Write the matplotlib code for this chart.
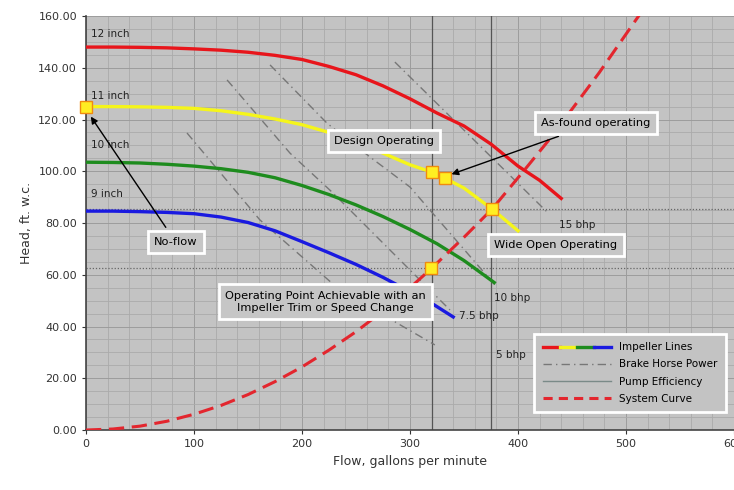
import numpy as np
import matplotlib.pyplot as plt
from matplotlib.lines import Line2D
from matplotlib.legend_handler import HandlerTuple
from matplotlib.ticker import MultipleLocator

plt.rcParams['font.family'] = ['DejaVu Sans']

# impeller curves (flow gpm, head ft w.c.)
q_12 = [0, 25, 50, 75, 100, 125, 150, 175, 200, 225, 250, 275, 300, 325, 350, 375, 400, 420, 440]
h_12 = [148, 148, 147.9, 147.7, 147.3, 146.8, 146, 144.8, 143.2, 140.5, 137.3, 133, 128, 122.5,
        117.5, 110.5, 102, 96.5, 89.5]
q_11 = [0, 25, 50, 75, 100, 125, 150, 175, 200, 225, 250, 275, 300, 320, 332, 350, 376, 400]
h_11 = [125, 125, 124.9, 124.7, 124.3, 123.4, 122, 120.2, 118, 115, 111.5, 107, 102.5, 99.7,
        97.4, 93.5, 85.4, 77]
q_10 = [0, 25, 50, 75, 100, 125, 150, 175, 200, 225, 250, 275, 300, 325, 350, 378]
h_10 = [103.5, 103.4, 103.2, 102.7, 102, 101, 99.6, 97.5, 94.5, 91, 87, 82.5, 77.5, 72, 65.5, 57]
q_9 = [0, 25, 50, 75, 100, 125, 150, 175, 200, 225, 250, 275, 300, 320, 340]
h_9 = [84.6, 84.6, 84.4, 84.1, 83.6, 82.3, 80.2, 77, 72.8, 68.5, 64, 59, 53.5, 49, 43.7]

# system curve
q_sys = [0, 25, 50, 75, 100, 125, 150, 175, 200, 225, 250, 275, 300, 320, 350, 376, 406, 430,
         450, 475, 500, 515]
h_sys = [0, 0.4, 1.5, 3.4, 6.1, 9.5, 13.7, 18.7, 24.4, 30.9, 38, 46, 55, 62.5, 74.5, 85.4, 100.5,
         112.8, 124, 138, 153, 162]

# brake horse power lines
bhp_labels = ['5 bhp', '7.5 bhp', '10 bhp', '15 bhp']
bhp_q = [[93.5, 161, 235, 323],
         [130.6, 188.9, 228.7, 290.7, 337],
         [170.4, 223.1, 263, 300, 378.7],
         [286, 427.8]]
bhp_h = [[114.8, 81.2, 54.1, 32.9],
         [135.3, 107, 91.6, 65.7, 46.4],
         [141.1, 118.6, 105.5, 93.9, 56],
         [142.2, 83.9]]
bhp_label_pos = [(380, 28), (345, 43), (378, 50), (438, 78)]

# operating points
pts_q = [0, 320, 332, 376, 319]
pts_h = [125, 99.7, 97.4, 85.4, 62.6]

fig = plt.figure(figsize=(7.34, 4.9), dpi=100)
ax = fig.add_axes([0.1172, 0.1224, 0.8828, 0.8449])
ax.set_facecolor('#c3c3c3')

ax.set_xlim(0, 600)
ax.set_ylim(0, 160)
ax.xaxis.set_major_locator(MultipleLocator(100))
ax.yaxis.set_major_locator(MultipleLocator(20))
ax.xaxis.set_minor_locator(MultipleLocator(20))
ax.yaxis.set_minor_locator(MultipleLocator(5))
ax.grid(which='minor', color='#ababab', lw=0.6, zorder=0)
ax.grid(which='major', color='#9c9c9c', lw=0.7, zorder=0)
ax.set_axisbelow(True)
ax.tick_params(which='minor', length=0)
ax.tick_params(which='major', length=3, labelsize=8, colors='#333333')
ax.yaxis.set_major_formatter(lambda v, p: f'{v:.2f}')
for s in ['top', 'right']:
    ax.spines[s].set_visible(False)
for s in ['left', 'bottom']:
    ax.spines[s].set_color('#444444')
    ax.spines[s].set_linewidth(1.2)

ax.set_xlabel('Flow, gallons per minute', fontsize=9, color='#333333')
ax.set_ylabel('Head, ft. w.c.', fontsize=9, color='#333333')

# guide lines through operating points
for q in [320, 375]:
    ax.axvline(q, color='#555555', lw=0.9, zorder=1)
for h in [85.4, 62.6]:
    ax.axhline(h, color='#666666', lw=0.9, ls=(0, (1, 1.5)), zorder=1)

# bhp lines
for q, h, lab, pos in zip(bhp_q, bhp_h, bhp_labels, bhp_label_pos):
    ax.plot(q, h, color='#777777', lw=1.0, ls=(0, (6, 3, 1, 3)), zorder=2)
    ax.text(pos[0], pos[1], lab, fontsize=7.5, color='#222222', zorder=6)

l12, = ax.plot(q_12, h_12, color='#e8151b', lw=2.4, zorder=3)
l11, = ax.plot(q_11, h_11, color='#f5f51a', lw=2.4, zorder=3)
l10, = ax.plot(q_10, h_10, color='#1e8c1e', lw=2.4, zorder=3)
l9, = ax.plot(q_9, h_9, color='#1a1ae0', lw=2.4, zorder=3)
for lab, h in zip(['12 inch', '11 inch', '10 inch', '9 inch'], [152, 128, 109, 90]):
    ax.text(5, h, lab, fontsize=7.5, color='#222222', zorder=6)

ax.plot(q_sys, h_sys, color='#e3262e', lw=2.2, ls=(0, (5, 2.5)), zorder=4)
ax.plot(pts_q, pts_h, ls='none', marker='s', ms=8, mfc='#ffee22', mec='#f08a10',
        mew=1.0, zorder=7, clip_on=False)

box = dict(boxstyle='square,pad=0.55', fc='#c6c6c6', ec='white', lw=2.0)
arrow = dict(arrowstyle='-|>', color='black', lw=1.0, mutation_scale=10)
fs = 8.2
ax.annotate('No-flow', xy=(3, 122), xytext=(83, 72.7), fontsize=fs, ha='center',
            va='center', bbox=box, arrowprops=arrow, zorder=8)
ax.text(276, 111.7, 'Design Operating', fontsize=fs, ha='center', va='center',
        bbox=box, zorder=8)
ax.annotate('As-found operating', xy=(336, 98.5), xytext=(472, 118.6), fontsize=fs,
            ha='center', va='center', bbox=box, arrowprops=arrow, zorder=8)
ax.text(435, 71.5, 'Wide Open Operating', fontsize=fs, ha='center', va='center',
        bbox=box, zorder=8)
ax.text(222, 49.5, 'Operating Point Achievable with an\nImpeller Trim or Speed Change',
        fontsize=fs, ha='center', va='center', bbox=box, zorder=8, linespacing=1.3)

h_imp = tuple(Line2D([], [], color=c, lw=2.4) for c in
              ['#e8151b', '#f5f51a', '#1e8c1e', '#1a1ae0'])
h_bhp = Line2D([], [], color='#777777', lw=1.0, ls=(0, (6, 3, 1, 3)))
h_eff = Line2D([], [], color='#7a8a88', lw=1.0)
h_sys = Line2D([], [], color='#e3262e', lw=2.2, ls=(0, (3, 2)))
leg = ax.legend([h_imp, h_bhp, h_eff, h_sys],
                ['Impeller Lines', 'Brake Horse Power', 'Pump Efficiency', 'System Curve'],
                handler_map={tuple: HandlerTuple(ndivide=None, pad=0)},
                loc='lower right', bbox_to_anchor=(0.995, 0.03), fontsize=7.5,
                frameon=True, fancybox=False, facecolor='#c3c3c3', edgecolor='white',
                framealpha=1, handlelength=6.5, labelspacing=0.7, borderpad=0.8)
leg.get_frame().set_linewidth(2.0)
leg.set_zorder(9)

fig.savefig('out.png', dpi=100)
